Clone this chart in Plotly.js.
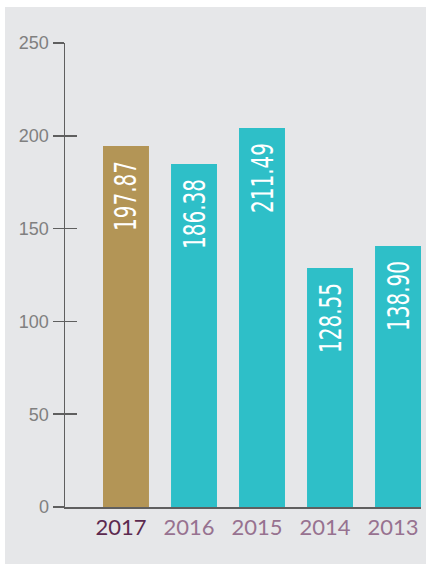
<!DOCTYPE html>
<html>
<head>
<meta charset="utf-8">
<script src="https://cdn.plot.ly/plotly-3.0.1.min.js"></script>
<style>
  html, body { margin: 0; padding: 0; background: #ffffff; }
  #chart { position: absolute; left: 5px; top: 7px; width: 421px; height: 557px; }
</style>
</head>
<body>
<div id="chart"></div>
<script>
// Data
var years = ["2017", "2016", "2015", "2014", "2013"];
var barHeights = [194.5, 184.8, 204.2, 128.8, 140.6];
var labels = ["197.87", "186.38", "211.49", "128.55", "138.90"];
var barColors = ["#b39556", "#2ebfc8", "#2ebfc8", "#2ebfc8", "#2ebfc8"];
var tickColors = ["#5c2a4f", "#977290", "#977290", "#977290", "#977290"];
var yTicks = [0, 50, 100, 150, 200, 250];

var tickText = years.map(function (y, i) {
  return '<span style="color:' + tickColors[i] + '">' + y + '</span>';
});

var trace = {
  type: 'bar',
  x: years,
  y: barHeights,
  text: labels,
  textposition: 'inside',
  insidetextanchor: 'end',
  textangle: -90,
  insidetextfont: { family: 'DejaVu Sans Condensed, Roboto, sans-serif', size: 30, color: '#ffffff' },
  constraintext: 'none',
  marker: { color: barColors, line: { width: 0 } },
  hoverinfo: 'none',
  showlegend: false
};

var layout = {
  width: 421, height: 557,
  margin: { l: 60, r: 5, t: 36, b: 57 },
  paper_bgcolor: '#e6e7e9',
  plot_bgcolor: '#e6e7e9',
  bargap: 0.324,
  xaxis: {
    type: 'category',
    range: [-0.897, 4.338],
    tickvals: years, ticktext: tickText,
    showline: true, linecolor: '#5f5f5f', linewidth: 1.5,
    ticks: '', showgrid: false, zeroline: false,
    ticklabelshift: -5,
    tickfont: { family: 'Lato, Open Sans, sans-serif', size: 22, color: '#977290' },
    fixedrange: true
  },
  yaxis: {
    range: [0, 250],
    tickvals: yTicks,
    ticks: 'outside', ticklen: 11, tickwidth: 1.5, tickcolor: '#5f5f5f',
    showline: true, linecolor: '#5f5f5f', linewidth: 1.5,
    showgrid: false, zeroline: false,
    tickfont: { family: 'Liberation Sans, Arial, sans-serif', size: 18, color: '#808080' },
    fixedrange: true
  },
  yaxis2: {
    range: [0, 250], overlaying: 'y', side: 'left', anchor: 'x',
    tickvals: yTicks,
    ticks: 'inside', ticklen: 12, tickwidth: 1.5, tickcolor: '#5f5f5f',
    showticklabels: false, showline: false, showgrid: false, zeroline: false,
    fixedrange: true
  }
};

var dummy = { type: 'scatter', x: [years[0]], y: [0], yaxis: 'y2', mode: 'markers',
  marker: { opacity: 0 }, hoverinfo: 'none', showlegend: false };

Plotly.newPlot('chart', [trace, dummy], layout, { displayModeBar: false, staticPlot: true }).then(function (gd) {
  // condense the in-bar labels to mimic the narrow typeface of the original
  var targetLen = 70, inset = 15, pad = 3;
  gd.querySelectorAll('text.bartext').forEach(function (t) {
    var L = t.getComputedTextLength();
    if (!L) return;
    t.setAttribute('textLength', targetLen);
    t.setAttribute('lengthAdjust', 'spacingAndGlyphs');
    var need = inset - pad - (L - targetLen) / 2;
    var tr = t.getAttribute('transform') || '';
    t.setAttribute('transform', tr + ' translate(' + (-need) + ',0)');
  });
});
</script>
</body>
</html>
